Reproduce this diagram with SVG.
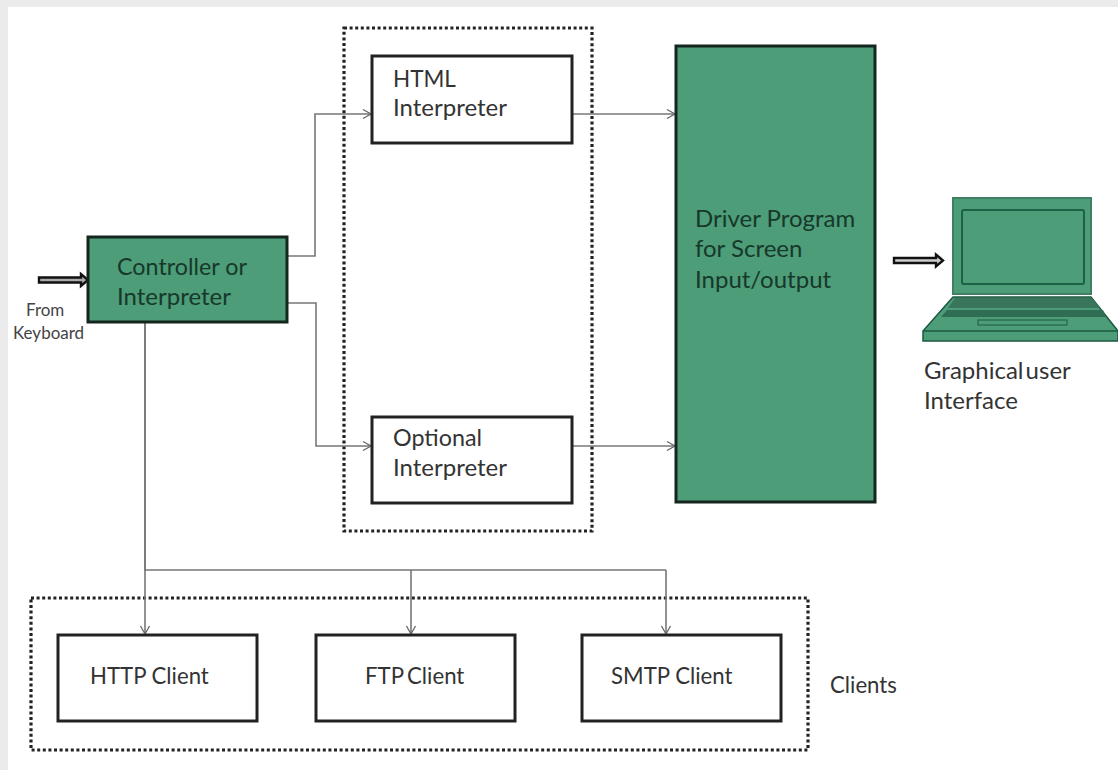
<svg xmlns="http://www.w3.org/2000/svg" width="1118" height="770" viewBox="0 0 1118 770">
<defs>
<marker id="open" markerUnits="userSpaceOnUse" markerWidth="12" markerHeight="12" refX="10" refY="6" orient="auto"><path d="M2 1.500 L10 6 L2 10.500" fill="none" stroke="#666" stroke-width="1.300"/></marker>
</defs>
<style>
text{font-family:Lato,"Open Sans","Liberation Sans",sans-serif;fill:#333;font-size:24px}
text.client{font-size:22.200px}
text.small{font-size:17px;fill:#444}
.box{fill:#fff;stroke:#222;stroke-width:3}
.green{fill:#4c9d78;stroke:#14261e;stroke-width:3}
.dot{fill:none;stroke:#222;stroke-width:3.200;stroke-dasharray:3 2.600}
.conn{fill:none;stroke:#777;stroke-width:1.600;marker-end:url(#open)}
.line{fill:none;stroke:#777;stroke-width:1.600}
text.dark{fill:#17382a}
.lap{stroke:#1c5a40;stroke-width:1.500}
</style>
<rect width="1118" height="770" fill="#ebebeb"/>
<rect x="8" y="7" width="1110" height="763" fill="#fff"/>
<g id="interpreter-group"><rect class="dot" x="344" y="28" width="248" height="503"/></g>
<g id="clients-group"><rect class="dot" x="31" y="598" width="777" height="152"/></g>
<g id="connectors">
<path class="conn" d="M288 256H315V114H371"/>
<path class="conn" d="M288 303H316V446H371"/>
<path class="conn" d="M573 114H675"/>
<path class="conn" d="M573 446H675"/>
<path class="line" d="M145 322V570H666"/>
<path class="conn" d="M145 322V634"/>
<path class="conn" d="M411 570V634"/>
<path class="conn" d="M666 570V634"/>
<g id="keyboard-arrow"><path d="M39 277.500H81V274L88 280L81 286V282.500H39Z" fill="#aaa" stroke="#111" stroke-width="2.400"/></g>
<g id="screen-arrow"><path d="M894 258H936V254.500L943 260.500L936 266.500V263H894Z" fill="#ccc" stroke="#111" stroke-width="2.400"/></g>
</g>
<g id="controller"><rect class="green" x="88" y="237" width="199" height="85"/><text class="dark" x="117" y="275" style="font-size:23.300px">Controller or</text><text class="dark" x="117" y="305">Interpreter</text></g>
<g id="html"><rect class="box" x="372" y="56" width="200" height="87"/><text x="393" y="87" style="font-size:22.500px">HTML</text><text x="393" y="116">Interpreter</text></g>
<g id="optional"><rect class="box" x="372" y="417" width="200" height="86"/><text x="393" y="446" style="font-size:23.300px">Optional</text><text x="393" y="476">Interpreter</text></g>
<g id="driver"><rect class="green" x="676" y="46" width="199" height="456"/><text class="dark" x="695" y="227">Driver Program</text><text class="dark" x="695" y="257">for Screen</text><text class="dark" x="695" y="288">Input/output</text></g>
<g id="http"><rect class="box" x="58" y="635" width="199" height="86"/><text class="client" x="90" y="684">HTTP Client</text></g>
<g id="ftp"><rect class="box" x="316" y="635" width="199" height="86"/><text class="client" x="365" y="684" word-spacing="-2">FTP Client</text></g>
<g id="smtp"><rect class="box" x="582" y="635" width="199" height="86"/><text class="client" x="611" y="684">SMTP Client</text></g>
<g id="laptop">
<rect x="953" y="198" width="138" height="96" fill="#4c9d78" stroke="#3f7f63" stroke-width="2"/>
<rect x="962" y="210" width="122" height="74" rx="2" fill="#4c9d78" stroke="#1c6146" stroke-width="2"/>
<path class="lap" d="M923 331L953 297H1091L1118 331V341H923Z" fill="#4c9d78"/>
<path class="lap" d="M923 331H1118" fill="none"/>
<path d="M948 308L955 298H1092L1100 308Z" fill="#38755a"/>
<path d="M941 317L947 310H1103L1106 317Z" fill="#2f6e52"/>
<rect x="978" y="320" width="89" height="5" fill="#4c9d78" stroke="#1c5a40"/>
</g>
<text class="small" x="26" y="316">From</text><text class="small" x="13" y="339">Keyboard</text>
<text x="924" y="379" word-spacing="-4">Graphical user</text><text x="924" y="409">Interface</text>
<text class="client" x="830" y="693">Clients</text>
</svg>
